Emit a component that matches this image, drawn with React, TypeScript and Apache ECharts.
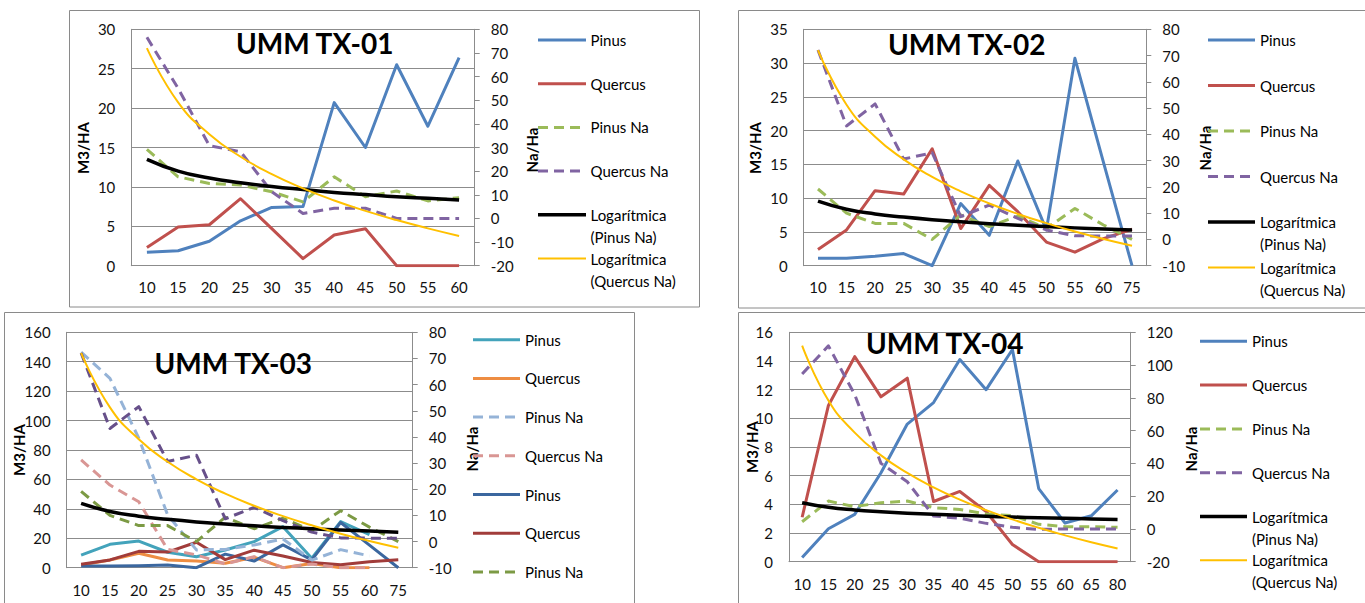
import React, { useEffect, useRef } from "react";
import * as echarts from "echarts";

const FONT = 'Lato, "Liberation Sans", Arial, sans-serif';

// ---------- categories ----------
const cats1 = ["10", "15", "20", "25", "30", "35", "40", "45", "50", "55", "60"];
const cats2 = ["10", "15", "20", "25", "30", "35", "40", "45", "50", "55", "60", "75"];
const cats3 = ["10", "15", "20", "25", "30", "35", "40", "45", "50", "55", "60", "75"];
const cats4 = ["10", "15", "20", "25", "30", "35", "40", "45", "50", "55", "60", "65", "80"];

// ---------- UMM TX-01 ----------
const pinus1 = [1.7, 1.9, 3.1, 5.7, 7.4, 7.5, 20.7, 15.0, 25.5, 17.7, 26.4];
const quercus1 = [2.3, 4.9, 5.2, 8.5, 4.7, 0.9, 3.9, 4.7, 0, 0, 0];
const pinusNa1 = [29.2, 17.6, 14.8, 14.1, 11.3, 7.0, 17.6, 9.2, 11.6, 7.4, 8.8];
const quercusNa1 = [76.6, 55.0, 30.8, 28.2, 11.3, 2.1, 4.3, 4.3, 0, 0, 0];
const logPinus1 = [25.0, 20.0, 17.1, 15.1, 13.5, 12.2, 11.0, 10.1, 9.2, 8.5, 7.8];
const logQuercus1 = [72.0, 49.1, 35.6, 26.1, 18.7, 12.7, 7.6, 3.2, -0.7, -4.2, -7.4];

// ---------- UMM TX-02 ----------
const pinus2 = [1.1, 1.1, 1.4, 1.8, 0, 9.2, 4.5, 15.5, 5.3, 30.7, 15.3, 0];
const quercus2 = [2.4, 5.3, 11.1, 10.6, 17.3, 5.5, 11.9, 8.0, 3.5, 2.0, 4.0, 5.4];
const pinusNa2 = [19.2, 10.0, 6.1, 6.1, 0.0, 9.3, 4.9, 8.9, 4.2, 11.8, 5.5, 0];
const quercusNa2 = [72.1, 43.2, 51.6, 30.6, 33.0, 8.7, 13.1, 8.0, 3.6, 1.4, 1.3, 1.3];
const logPinus2 = [14.6, 11.5, 9.7, 8.5, 7.5, 6.7, 6.0, 5.4, 4.9, 4.4, 4.0, 3.6];
const logQuercus2 = [72.1, 51.3, 39.1, 30.5, 23.8, 18.3, 13.7, 9.7, 6.2, 3.0, 0.2, -2.4];

// ---------- UMM TX-03 (first set; the second set repeats TX-02) ----------
const pinus3 = [8.6, 15.9, 18.1, 10.5, 7.5, 12.0, 17.7, 27.9, 6.4, 31.3, 22.5];
const quercus3 = [1.8, 5.2, 9.8, 5.2, 4.5, 3.0, 7.1, 0, 2.9, 0, 0];
const pinusNa3 = [72.4, 62.4, 39.5, 10.2, -3.2, -3.0, -1.3, 1.0, -7.1, -3.1, -5.5];
const quercusNa3 = [31.2, 21.6, 15.2, -3.0, -5.1, -8.6, -5.8, -10, -8.6, -10, -10];

// ---------- UMM TX-04 ----------
const pinus4 = [0.3, 2.3, 3.3, 6.2, 9.6, 11.1, 14.1, 12.0, 14.8, 5.1, 2.7, 3.2, 5.0];
const quercus4 = [3.1, 10.9, 14.3, 11.5, 12.8, 4.2, 4.9, 3.5, 1.2, 0, 0, 0, 0];
const pinusNa4 = [4.4, 17.0, 13.6, 16.0, 17.0, 13.0, 11.9, 9.1, 8.1, 2.8, 1.4, 1.4, 1.0];
const quercusNa4 = [94.6, 111.7, 82.0, 40.0, 28.8, 7.9, 6.5, 3.4, 1.0, -0.3, 0, 0, 0];
const logPinus4 = [16.0, 13.2, 11.6, 10.5, 9.6, 8.9, 8.3, 7.7, 7.3, 6.8, 6.5, 6.1, 5.8];
const logQuercus4 = [111.9, 78.4, 58.8, 44.9, 34.2, 25.4, 17.9, 11.5, 5.8, 0.7, -3.9, -8.1, -11.9];

const titles = ["UMM TX-01", "UMM TX-02", "UMM TX-03", "UMM TX-04"];
const leftAxisName = "M3/HA";
const rightAxisName = "Na/Ha";
const legendNames6 = ["Pinus", "Quercus", "Pinus Na", "Quercus Na", "Logarítmica\n(Pinus Na)", "Logarítmica\n(Quercus Na)"];
// the TX-03 legend runs past the bottom of the picture; only its visible entries are drawn
const legendNames3 = ["Pinus", "Quercus", "Pinus Na", "Quercus Na", "Pinus", "Quercus", "Pinus Na"];

const C = {
  blue: "#4F81BD",
  red: "#C0504D",
  green: "#9BBB59",
  purple: "#8064A2",
  black: "#000000",
  yellow: "#FFC000",
  teal: "#43A3BB",
  orange: "#EE8D42",
  lightBlue: "#95B3D7",
  pink: "#D99694",
  dBlue: "#3B679F",
  dRed: "#A13C3A",
  dGreen: "#7C9A44",
  dPurple: "#67508A",
};
const GRID_COLOR = "#8c8c8c";
const DASH = [10, 6];

type Sty = { color: string; width: number; dashed: boolean };
const sPinus: Sty = { color: C.blue, width: 3, dashed: false };
const sQuercus: Sty = { color: C.red, width: 3, dashed: false };
const sPinusNa: Sty = { color: C.green, width: 3, dashed: true };
const sQuercusNa: Sty = { color: C.purple, width: 3, dashed: true };
const sLogP: Sty = { color: C.black, width: 3.5, dashed: false };
const sLogQ: Sty = { color: C.yellow, width: 2, dashed: false };

function lineSeries(name: string, data: number[], gi: number, axisSide: number, sty: Sty, smooth = false) {
  return {
    type: "line",
    name,
    xAxisIndex: gi,
    yAxisIndex: gi * 2 + axisSide,
    data,
    symbol: "none",
    showSymbol: false,
    smooth,
    lineStyle: { color: sty.color, width: sty.width, type: sty.dashed ? DASH : "solid", join: "round" },
    itemStyle: { color: sty.color },
  };
}

function yAx(gi: number, min: number, max: number, interval: number, right: boolean) {
  return {
    type: "value",
    gridIndex: gi,
    min,
    max,
    interval,
    position: right ? "right" : "left",
    axisLine: { show: true, lineStyle: { color: GRID_COLOR, width: 1 } },
    axisTick: { show: right, length: 5, inside: false, lineStyle: { color: GRID_COLOR } },
    splitLine: { show: !right, lineStyle: { color: GRID_COLOR, width: 1 } },
    axisLabel: { fontFamily: FONT, fontSize: 15, color: "#111", margin: 16 },
  };
}

function xAx(gi: number, data: string[], margin: number) {
  return {
    type: "category",
    gridIndex: gi,
    data,
    boundaryGap: true,
    axisLine: { show: true, lineStyle: { color: GRID_COLOR, width: 1 } },
    axisTick: { show: false },
    splitLine: { show: false },
    axisLabel: { fontFamily: FONT, fontSize: 15, color: "#111", margin, interval: 0 },
  };
}

function legendGraphics(names: string[], styles: Sty[], x1: number, x2: number, tx: number, y0: number, step: number) {
  const out: any[] = [];
  names.forEach((n, i) => {
    const y = y0 + i * step;
    const s = styles[i];
    out.push({
      type: "line",
      shape: { x1, y1: y, x2, y2: y },
      style: { stroke: s.color, lineWidth: s.width, lineDash: s.dashed ? DASH : null },
      silent: true,
    });
    out.push({
      type: "text",
      x: tx,
      y: y - 11,
      style: {
        text: n,
        font: `15px ${FONT}`,
        fill: "#000",
        align: "left",
        verticalAlign: "top",
        lineHeight: 22,
      },
      silent: true,
    });
  });
  return out;
}

function vText(text: string, x: number, y: number) {
  return {
    type: "text",
    x,
    y,
    rotation: Math.PI / 2,
    style: { text, font: `bold 15px ${FONT}`, fill: "#000", align: "center", verticalAlign: "middle" },
    silent: true,
  };
}

function titleText(text: string, x: number, y: number) {
  return {
    type: "text",
    x,
    y,
    style: { text, font: `bold 28px ${FONT}`, fill: "#000", align: "center", verticalAlign: "middle" },
    silent: true,
    z: 10,
  };
}

function boxRect(x: number, y: number, w: number, h: number) {
  return {
    type: "rect",
    shape: { x, y, width: w, height: h },
    style: { fill: "none", stroke: "#8a8a8a", lineWidth: 1 },
    silent: true,
    z: -1,
  };
}

export default function App() {
  const ref = useRef<HTMLDivElement>(null);
  useEffect(() => {
    if (!ref.current) return;
    const chart = echarts.init(ref.current, null, { renderer: "svg" });

    const styles6 = [sPinus, sQuercus, sPinusNa, sQuercusNa, sLogP, sLogQ];
    const s3A = [
      { color: C.teal, width: 3, dashed: false },
      { color: C.orange, width: 3, dashed: false },
      { color: C.lightBlue, width: 3, dashed: true },
      { color: C.pink, width: 3, dashed: true },
    ];
    const s3B = [
      { color: C.dBlue, width: 3, dashed: false },
      { color: C.dRed, width: 3, dashed: false },
      { color: C.dGreen, width: 3, dashed: true },
      { color: C.dPurple, width: 3, dashed: true },
    ];
    const styles3 = [...s3A, ...s3B, sLogP, sLogQ];

    const option: any = {
      animation: false,
      backgroundColor: "#ffffff",
      textStyle: { fontFamily: FONT },
      grid: [
        { left: 131.3, top: 29.3, width: 343.4, height: 236.4 },
        { left: 803.7, top: 29.3, width: 342.6, height: 236.4 },
        { left: 66.7, top: 332.3, width: 346, height: 235.4 },
        { left: 789, top: 332.3, width: 341.7, height: 229.4 },
      ],
      xAxis: [xAx(0, cats1, 14), xAx(1, cats2, 14), xAx(2, cats3, 15), xAx(3, cats4, 15)],
      yAxis: [
        yAx(0, 0, 30, 5, false),
        yAx(0, -20, 80, 10, true),
        yAx(1, 0, 35, 5, false),
        yAx(1, -10, 80, 10, true),
        yAx(2, 0, 160, 20, false),
        yAx(2, -10, 80, 10, true),
        yAx(3, 0, 16, 2, false),
        yAx(3, -20, 120, 20, true),
      ],
      series: [
        // TX-01
        lineSeries("Pinus", pinus1, 0, 0, sPinus),
        lineSeries("Quercus", quercus1, 0, 0, sQuercus),
        lineSeries("Pinus Na", pinusNa1, 0, 1, sPinusNa),
        lineSeries("Quercus Na", quercusNa1, 0, 1, sQuercusNa),
        lineSeries("Logarítmica (Pinus Na)", logPinus1, 0, 1, sLogP, true),
        lineSeries("Logarítmica (Quercus Na)", logQuercus1, 0, 1, sLogQ, true),
        // TX-02
        lineSeries("Pinus", pinus2, 1, 0, sPinus),
        lineSeries("Quercus", quercus2, 1, 0, sQuercus),
        lineSeries("Pinus Na", pinusNa2, 1, 1, sPinusNa),
        lineSeries("Quercus Na", quercusNa2, 1, 1, sQuercusNa),
        lineSeries("Logarítmica (Pinus Na)", logPinus2, 1, 1, sLogP, true),
        lineSeries("Logarítmica (Quercus Na)", logQuercus2, 1, 1, sLogQ, true),
        // TX-03
        lineSeries("Pinus", pinus3, 2, 0, s3A[0]),
        lineSeries("Quercus", quercus3, 2, 0, s3A[1]),
        lineSeries("Pinus", pinus2, 2, 0, s3B[0]),
        lineSeries("Quercus", quercus2, 2, 0, s3B[1]),
        lineSeries("Pinus Na", pinusNa3, 2, 1, s3A[2]),
        lineSeries("Quercus Na", quercusNa3, 2, 1, s3A[3]),
        lineSeries("Pinus Na", pinusNa2, 2, 1, s3B[2]),
        lineSeries("Quercus Na", quercusNa2, 2, 1, s3B[3]),
        lineSeries("Logarítmica (Pinus Na)", logPinus2, 2, 1, sLogP, true),
        lineSeries("Logarítmica (Quercus Na)", logQuercus2, 2, 1, sLogQ, true),
        // TX-04
        lineSeries("Pinus", pinus4, 3, 0, sPinus),
        lineSeries("Quercus", quercus4, 3, 0, sQuercus),
        lineSeries("Pinus Na", pinusNa4, 3, 1, sPinusNa),
        lineSeries("Quercus Na", quercusNa4, 3, 1, sQuercusNa),
        lineSeries("Logarítmica (Pinus Na)", logPinus4, 3, 1, sLogP, true),
        lineSeries("Logarítmica (Quercus Na)", logQuercus4, 3, 1, sLogQ, true),
      ],
      graphic: [
        boxRect(69.5, 10.5, 630, 296.5),
        boxRect(738.5, 10.5, 700, 297.5),
        boxRect(4.5, 312.5, 630, 400),
        boxRect(738.5, 312.5, 700, 400),
        titleText(titles[0], 314.7, 43),
        titleText(titles[1], 966.7, 44),
        titleText(titles[2], 233.3, 363.3),
        titleText(titles[3], 944.7, 343.3),
        vText(leftAxisName, 83, 148),
        vText(leftAxisName, 754.5, 148),
        vText(leftAxisName, 19, 450),
        vText(leftAxisName, 752, 447),
        vText(rightAxisName, 531.7, 150),
        vText(rightAxisName, 1205, 148),
        vText(rightAxisName, 471.7, 449),
        vText(rightAxisName, 1191, 449),
        ...legendGraphics(legendNames6, styles6, 538, 586, 590.5, 40, 43.7),
        ...legendGraphics(legendNames6, styles6, 1208, 1255, 1260, 40, 45.5),
        ...legendGraphics(legendNames3, styles3, 473, 520, 525, 339.7, 38.7),
        ...legendGraphics(legendNames6, styles6, 1200, 1247, 1252, 341.3, 43.8),
      ],
    };
    chart.setOption(option);
    return () => chart.dispose();
  }, []);
  return (
    <div
      ref={ref}
      style={{ position: "absolute", left: 0, top: 0, width: 1365, height: 603, overflow: "hidden", background: "#fff" }}
    />
  );
}
